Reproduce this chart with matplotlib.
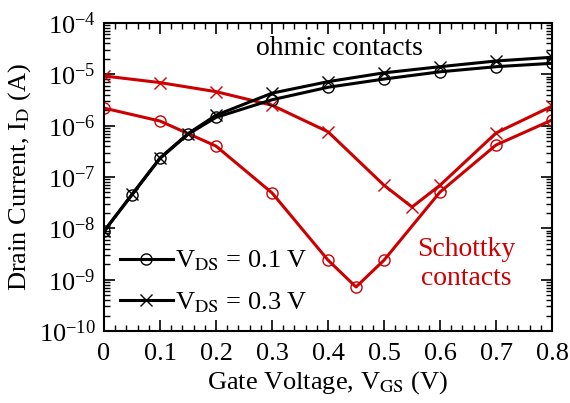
import matplotlib
matplotlib.use('Agg')
import matplotlib.pyplot as plt
from matplotlib.ticker import MultipleLocator, LogLocator, NullFormatter

plt.rcParams['font.family'] = ['Liberation Serif', 'DejaVu Serif']
plt.rcParams['mathtext.fontset'] = 'stix'

# ohmic contacts
vgs_ohmic = [0, 0.05, 0.1, 0.15, 0.2, 0.3, 0.4, 0.5, 0.6, 0.7, 0.8]
id_ohmic_01 = [8.8e-9, 4.5e-8, 2.3e-7, 6.8e-7, 1.45e-6, 3.2e-6, 5.6e-6, 8.1e-6, 1.12e-5, 1.41e-5, 1.64e-5]
id_ohmic_03 = [8.8e-9, 4.6e-8, 2.35e-7, 7.0e-7, 1.6e-6, 4.3e-6, 7.2e-6, 1.07e-5, 1.41e-5, 1.82e-5, 2.15e-5]

# schottky contacts
vgs_sch_01 = [0, 0.1, 0.2, 0.3, 0.4, 0.45, 0.5, 0.6, 0.7, 0.8]
id_sch_01 = [2.2e-6, 1.23e-6, 4.0e-7, 4.9e-8, 2.4e-9, 7.2e-10, 2.4e-9, 5.1e-8, 4.2e-7, 1.29e-6]
vgs_sch_03 = [0, 0.1, 0.2, 0.3, 0.4, 0.5, 0.55, 0.6, 0.7, 0.8]
id_sch_03 = [9.3e-6, 6.9e-6, 4.6e-6, 2.5e-6, 7.6e-7, 6.9e-8, 2.6e-8, 6.9e-8, 7.2e-7, 2.4e-6]

xtick_vals = [0, 0.1, 0.2, 0.3, 0.4, 0.5, 0.6, 0.7, 0.8]
xtick_labels = ['0', '0.1', '0.2', '0.3', '0.4', '0.5', '0.6', '0.7', '0.8']

RED = '#cc0000'

fig = plt.figure(figsize=(5.7, 4.03), dpi=100)
ax = fig.add_axes([0.1825, 0.1787, 0.786, 0.7642])

mk = dict(markersize=8, markerfacecolor='none', markeredgewidth=1.0)
ax.plot(vgs_sch_01, id_sch_01, color=RED, lw=2.2, marker='o', **mk)
ax.plot(vgs_sch_03, id_sch_03, color=RED, lw=2.2, marker='x', **mk)
l1, = ax.plot(vgs_ohmic, id_ohmic_01, color='black', lw=2.2, marker='o', **mk)
l2, = ax.plot(vgs_ohmic, id_ohmic_03, color='black', lw=2.2, marker='x', **mk)

ax.set_yscale('log')
ax.set_xlim(0, 0.8)
ax.set_ylim(1e-10, 1e-4)
ax.xaxis.set_minor_locator(MultipleLocator(0.02))
ax.set_xticks(xtick_vals)
ax.set_xticklabels(xtick_labels)
ax.yaxis.set_major_locator(LogLocator(base=10, numticks=20))
ax.yaxis.set_minor_locator(LogLocator(base=10, subs=range(2, 10), numticks=20))
ax.yaxis.set_minor_formatter(NullFormatter())

ax.tick_params(which='both', direction='in', top=True, right=True, labelsize=19)
ax.tick_params(axis='x', pad=9)
ax.tick_params(axis='y', pad=6)
ax.tick_params(which='major', length=8, width=1.2)
ax.tick_params(which='minor', length=4, width=1.0)
for s in ax.spines.values():
    s.set_linewidth(1.5)

ax.set_xlabel('Gate Voltage, V$_{\\rm GS}$ (V)', fontsize=19, labelpad=3)
ax.set_ylabel('Drain Current, I$_{\\rm D}$ (A)', fontsize=19, labelpad=4)

ax.text(0.421, 3.2e-5, 'ohmic contacts', fontsize=20, ha='center', va='center')
ax.text(0.647, 2e-9, 'Schottky\ncontacts', fontsize=20, ha='center', va='center',
        color=RED, linespacing=1.2)

ax.legend([l1, l2], ['V$_{\\rm DS}$ = 0.1 V', 'V$_{\\rm DS}$ = 0.3 V'],
          loc='lower left', frameon=False, fontsize=19, numpoints=1,
          handlelength=2.0, handletextpad=0.1, labelspacing=0.65,
          borderaxespad=0.2, bbox_to_anchor=(0.0, 0.0))

fig.savefig('out.png', dpi=100)
